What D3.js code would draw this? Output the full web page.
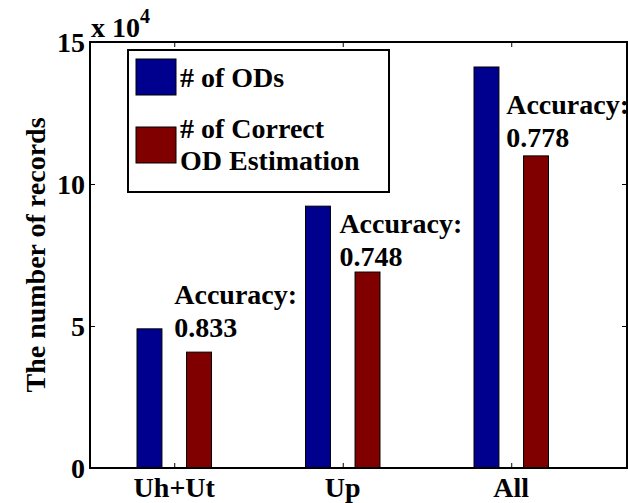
<!DOCTYPE html>
<html>
<head>
<meta charset="utf-8">
<script src="https://cdn.jsdelivr.net/npm/d3@7"></script>
<style>
  html, body { margin: 0; padding: 0; background: #fff; }
  svg { display: block; }
</style>
</head>
<body>
<svg id="chart" width="628" height="503"></svg>
<script>
// Record counts per trip group (in units of 10^4)
const categories = ["Uh+Ut", "Up", "All"];
const odCounts = [4.9, 9.22, 14.12];
const correctCounts = [4.08, 6.9, 10.99];
const accuracy = ["0.833", "0.748", "0.778"];
const yTicks = [0, 5, 10, 15];
const seriesNames = ["# of ODs", ["# of Correct", "OD Estimation"]];
const seriesColors = ["#00008f", "#800000"];
// Where each accuracy note sits, in axis units (x offset from group, y of first line)
const noteX = [0, -0.02, -0.03];
const noteY = [5.77, 8.27, 12.46];

const svg = d3.select("#chart");
const plotLeft = 90, plotRight = 627, plotTop = 42, plotBottom = 468;

const x = d3.scaleLinear().domain([0.5, 3.687]).range([plotLeft, plotRight]);
const y = d3.scaleLinear().domain([0, 15]).range([plotBottom, plotTop]);

const barW = 0.148, barOff = 0.147;
const fs = 28;

// Bold serif text helper
function label(parent, str, px, py, size, anchor) {
  return parent.append("text")
    .attr("x", px).attr("y", py)
    .attr("font-family", "Liberation Serif")
    .attr("font-weight", "bold")
    .attr("font-size", size)
    .attr("text-anchor", anchor || "start")
    .attr("fill", "#000")
    .style("font-family", "'Liberation Serif'")
    .style("font-weight", "bold")
    .text(str);
}

// Bars
const groups = categories.map((c, i) => ({ c, i, vals: [odCounts[i], correctCounts[i]] }));
groups.forEach(g => {
  g.vals.forEach((v, s) => {
    const cx = (g.i + 1) + (s === 0 ? -barOff : barOff);
    svg.append("rect")
      .attr("x", x(cx - barW / 2))
      .attr("y", y(v))
      .attr("width", x(cx + barW / 2) - x(cx - barW / 2))
      .attr("height", y(0) - y(v))
      .attr("fill", seriesColors[s])
      .attr("stroke", "#000")
      .attr("stroke-width", 1);
  });
});

// Axes box with inward ticks on all four sides
const tickLen = 5;
const axLeft = d3.axisRight(y).tickValues(yTicks).tickSize(tickLen).tickFormat("");
const axRight = d3.axisLeft(y).tickValues(yTicks).tickSize(tickLen).tickFormat("");
const axBottom = d3.axisTop(x).tickValues([1, 2, 3]).tickSize(tickLen).tickFormat("");
const axTop = d3.axisBottom(x).tickValues([1, 2, 3]).tickSize(tickLen).tickFormat("");
[[axLeft, `translate(${plotLeft},0)`], [axRight, `translate(${plotRight},0)`],
 [axBottom, `translate(0,${plotBottom})`], [axTop, `translate(0,${plotTop})`]].forEach(([ax, tr]) => {
  const g = svg.append("g").attr("transform", tr).call(ax);
  g.select(".domain").remove();
  g.selectAll(".tick text").remove();
  g.selectAll(".tick line").attr("stroke", "#000").attr("stroke-width", 1);
});
svg.append("rect")
  .attr("x", plotLeft).attr("y", plotTop)
  .attr("width", plotRight - plotLeft).attr("height", plotBottom - plotTop)
  .attr("fill", "none").attr("stroke", "#000").attr("stroke-width", 2);

// Y tick labels
yTicks.forEach(d => label(svg, d, plotLeft - 5, y(d) + 10, fs, "end"));

// Exponent label
const ex = label(svg, "x 10", plotLeft + 1, 37, fs);
ex.append("tspan").attr("dy", -14).attr("font-size", 20).text("4");

// X tick labels
categories.forEach((c, i) => label(svg, c, x(i + 1), 497, fs, "middle"));

// Y axis title
label(svg, "The number of records", 0, 0, fs, "middle")
  .attr("transform", `translate(45,${(plotTop + plotBottom) / 2}) rotate(-90)`);

// Accuracy notes
categories.forEach((c, i) => {
  const nx = x(i + 1 + noteX[i]);
  label(svg, "Accuracy:", nx, y(noteY[i]), fs);
  label(svg, accuracy[i], nx, y(noteY[i]) + 33, fs);
});

// Legend
const lg = svg.append("g");
lg.append("rect").attr("x", 128).attr("y", 50).attr("width", 261).attr("height", 142)
  .attr("fill", "#fff").attr("stroke", "#000").attr("stroke-width", 2);
const swatchY = [59, 127];
const labelY = [[87], [138, 170]];
seriesNames.forEach((name, s) => {
  lg.append("rect").attr("x", 136).attr("y", swatchY[s]).attr("width", 40).attr("height", 36)
    .attr("fill", seriesColors[s]).attr("stroke", "#000").attr("stroke-width", 1);
  const lines = Array.isArray(name) ? name : [name];
  lines.forEach((ln, k) => label(lg, ln, 180, labelY[s][k], fs));
});
</script>
</body>
</html>
